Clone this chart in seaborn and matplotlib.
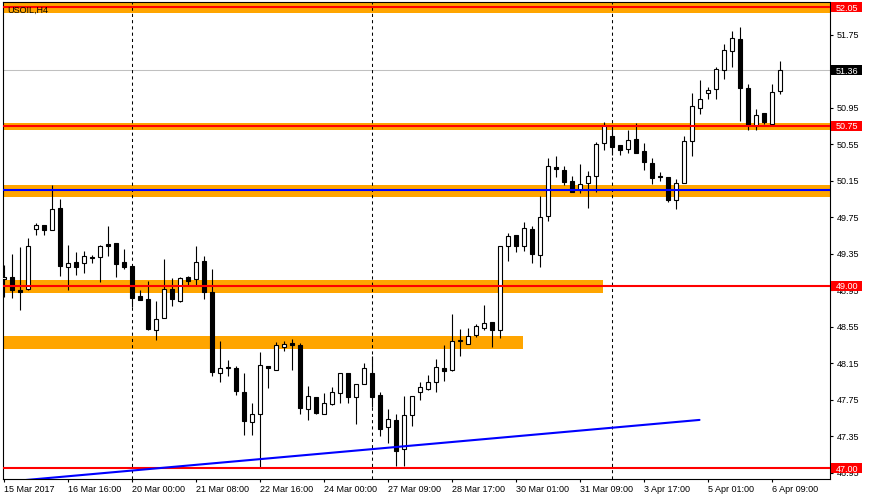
import numpy as np
import pandas as pd
import matplotlib
matplotlib.use("Agg")
import matplotlib.pyplot as plt
import matplotlib.transforms as mtransforms
from matplotlib.patches import Rectangle
import seaborn as sns

# ---------------- data ----------------
symbol_title = "USOIL,H4"

opens = [49.07, 49.09, 48.95, 48.96, 49.62, 49.66, 49.61, 49.85, 49.21, 49.26,
         49.25, 49.31, 49.31, 49.46, 49.47, 49.26, 49.22, 48.89, 48.85, 48.52,
         48.65, 48.96, 48.83, 49.09, 49.07, 49.27, 48.93, 48.04, 48.10, 48.10,
         47.84, 47.51, 47.59, 48.12, 48.08, 48.33, 48.37, 48.35, 47.65, 47.78,
         47.60, 47.70, 47.83, 48.04, 47.78, 47.92, 48.04, 47.80, 47.45, 47.53,
         47.21, 47.58, 47.84, 47.87, 47.95, 48.10, 48.08, 48.39, 48.36, 48.46,
         48.54, 48.60, 48.52, 49.43, 49.55, 49.44, 49.62, 49.34, 49.76, 50.30,
         50.27, 50.15, 50.05, 50.12, 50.20, 50.56, 50.64, 50.54, 50.50, 50.61,
         50.47, 50.34, 50.20, 50.19, 49.94, 50.12, 50.58, 50.95, 51.11, 51.15,
         51.36, 51.57, 51.70, 51.16, 50.75, 50.89, 50.77, 51.13]
highs = [49.23, 49.35, 49.42, 49.52, 49.69, 49.66, 50.10, 49.95, 49.45, 49.37,
         49.38, 49.34, 49.45, 49.65, 49.47, 49.40, 49.22, 48.95, 49.05, 48.83,
         49.29, 49.08, 49.09, 49.11, 49.43, 49.32, 49.18, 48.39, 48.19, 48.12,
         48.04, 47.72, 48.27, 48.12, 48.38, 48.39, 48.42, 48.37, 47.90, 47.78,
         47.83, 47.89, 48.04, 48.04, 47.92, 48.15, 48.23, 47.84, 47.65, 47.60,
         47.79, 47.79, 47.94, 48.02, 48.20, 48.35, 48.69, 48.53, 48.54, 48.58,
         48.79, 48.60, 49.43, 49.58, 49.55, 49.70, 49.65, 49.98, 50.40, 50.42,
         50.31, 50.20, 50.33, 50.26, 50.57, 50.79, 50.76, 50.54, 50.71, 50.78,
         50.56, 50.40, 50.25, 50.19, 50.17, 50.64, 51.11, 51.25, 51.18, 51.39,
         51.65, 51.79, 51.83, 51.21, 50.94, 50.89, 51.21, 51.46]
lows = [48.88, 48.86, 48.73, 48.95, 49.55, 49.55, 49.61, 49.11, 48.95, 49.12,
        49.14, 49.25, 49.04, 49.33, 49.09, 49.18, 48.77, 48.84, 48.52, 48.41,
        48.65, 48.78, 48.82, 49.00, 49.00, 48.85, 48.01, 47.94, 48.01, 47.80,
        47.36, 47.36, 47.00, 47.88, 48.08, 48.28, 48.08, 47.60, 47.53, 47.59,
        47.60, 47.69, 47.71, 47.71, 47.49, 47.92, 47.67, 47.35, 47.28, 47.03,
        47.03, 47.46, 47.75, 47.86, 47.84, 47.96, 48.07, 48.23, 48.36, 48.44,
        48.51, 48.33, 48.43, 49.27, 49.37, 49.38, 49.25, 49.21, 49.71, 50.19,
        50.10, 50.03, 50.01, 49.85, 50.03, 50.49, 50.43, 50.43, 50.45, 50.45,
        50.27, 50.11, 50.15, 49.92, 49.84, 50.12, 50.42, 50.88, 51.05, 51.05,
        51.26, 51.39, 50.80, 50.70, 50.71, 50.77, 50.77, 51.10]
closes = [49.10, 48.95, 48.93, 49.44, 49.66, 49.61, 49.84, 49.22, 49.25, 49.20,
          49.32, 49.30, 49.43, 49.44, 49.24, 49.20, 48.87, 48.84, 48.53, 48.64,
          48.96, 48.85, 49.08, 49.05, 49.26, 48.93, 48.05, 48.10, 48.11, 47.85,
          47.52, 47.60, 48.13, 48.10, 48.35, 48.36, 48.35, 47.66, 47.79, 47.61,
          47.71, 47.84, 48.04, 47.78, 47.92, 48.10, 47.78, 47.43, 47.54, 47.19,
          47.58, 47.79, 47.89, 47.94, 48.11, 48.07, 48.39, 48.41, 48.45, 48.56,
          48.59, 48.51, 49.43, 49.54, 49.43, 49.63, 49.35, 49.75, 50.31, 50.28,
          50.14, 50.03, 50.11, 50.20, 50.55, 50.76, 50.52, 50.49, 50.60, 50.45,
          50.35, 50.18, 50.19, 49.94, 50.13, 50.58, 50.97, 51.05, 51.14, 51.37,
          51.58, 51.71, 51.16, 50.76, 50.87, 50.79, 51.12, 51.36]

date_labels = ["15 Mar 2017", "16 Mar 16:00", "20 Mar 00:00", "21 Mar 08:00",
               "22 Mar 16:00", "24 Mar 00:00", "27 Mar 09:00", "28 Mar 17:00",
               "30 Mar 01:00", "31 Mar 09:00", "3 Apr 17:00", "5 Apr 01:00",
               "6 Apr 09:00"]
date_label_bars = [0, 8, 16, 24, 32, 40, 48, 56, 64, 72, 80, 88, 96]
grid_bars = [16, 46, 76]

zone_lows = [51.99, 50.70, 49.97, 48.92, 48.31]
zone_highs = [52.12, 50.78, 50.10, 49.06, 48.45]
zone_end_bars = [104, 104, 104, 74.9, 64.9]

red_levels = [52.05, 50.75, 49.00, 47.00]
blue_level = 50.05
trend_bars = [0, 87]
trend_prices = [46.85, 47.53]
last_price = 51.36

ytick_values = [46.95, 47.35, 47.75, 48.15, 48.55, 48.95, 49.35, 49.75,
                50.15, 50.55, 50.95, 51.35, 51.75]
price_tags = [52.05, 51.36, 50.75, 49.00, 47.00]
price_tag_colors = ["#FF0000", "#000000", "#FF0000", "#FF0000", "#FF0000"]

# ---------------- style ----------------
sns.set_theme(style="white")
plt.rcParams['font.family'] = ['Liberation Sans', 'DejaVu Sans']
FS = 6.5

fig = plt.figure(figsize=(8.7, 5.0), dpi=100, facecolor="white")
ax = fig.add_axes([2.7 / 870, 21 / 500, 827.3 / 870, 476.7 / 500])
ax.set_facecolor("white")

df = pd.DataFrame({"o": opens, "h": highs, "l": lows, "c": closes})
df["i"] = np.arange(len(df))
up = df["c"] >= df["o"]
body_bottom = np.minimum(df["o"], df["c"])
body_height = np.maximum((df["c"] - df["o"]).abs(), 0.004)

# zones (background)
for lo, hi, end in zip(zone_lows, zone_highs, zone_end_bars):
    ax.fill_between([-2, end], [lo, lo], [hi, hi], color="#FFA500", lw=0, zorder=1)

# last price gray line
ax.axhline(last_price, color="#C0C0C0", lw=0.75, zorder=1.5)

# vertical dashed grid
for gb in grid_bars:
    ax.axvline(gb, color="black", lw=0.75, ls=(0, (3, 3)), zorder=1.8)

# candles
ax.vlines(df["i"], df["l"], df["h"], color="black", lw=0.8, zorder=3)
ax.bar(df["i"][up], body_height[up], bottom=body_bottom[up], width=0.5,
       facecolor="white", edgecolor="black", lw=0.8, zorder=4)
ax.bar(df["i"][~up], body_height[~up], bottom=body_bottom[~up], width=0.5,
       facecolor="black", edgecolor="black", lw=0.8, zorder=4)

# horizontal levels
for lv in red_levels:
    ax.axhline(lv, color="#FF0000", lw=1.5, zorder=5)
ax.axhline(blue_level, color="#0000FF", lw=1.5, zorder=5)

# trend line
sns.lineplot(x=trend_bars, y=trend_prices, ax=ax, color="#0000FF", lw=1.5, zorder=5)

ax.set_xlim(-0.1, 103.31)
ax.set_ylim(46.883, 52.104)

# axes / ticks
for sp in ax.spines.values():
    sp.set_color("black")
    sp.set_linewidth(0.8)
ax.yaxis.tick_right()
ax.set_yticks(ytick_values, [f"{v:.2f}" for v in ytick_values])
ax.set_xticks(date_label_bars, date_labels, ha="left")
ax.tick_params(axis="y", right=True, left=False, length=2.5, width=0.8,
               pad=2.2, labelsize=FS, colors="black")
ax.tick_params(axis="x", bottom=True, length=2.5, width=0.8, pad=2,
               labelsize=FS, colors="black")
ax.set_xlabel("")
ax.set_ylabel("")

# price tags on the right
trans = mtransforms.blended_transform_factory(ax.transAxes, ax.transData)
for val, fc in zip(price_tags, price_tag_colors):
    ax.add_patch(Rectangle((1.0012, val - 0.055), 0.0375, 0.11, transform=trans,
                           facecolor=fc, edgecolor="none", clip_on=False, zorder=20))
    ax.text(1.0073, val, f"{val:.2f}", transform=trans, color="white", fontsize=FS,
            va="center_baseline", ha="left", zorder=21, clip_on=False)

ax.text(0.0056, 0.993, symbol_title, transform=ax.transAxes, fontsize=FS,
        va="top", ha="left", color="black", zorder=22)

fig.savefig("out.png", dpi=100, facecolor="white")
